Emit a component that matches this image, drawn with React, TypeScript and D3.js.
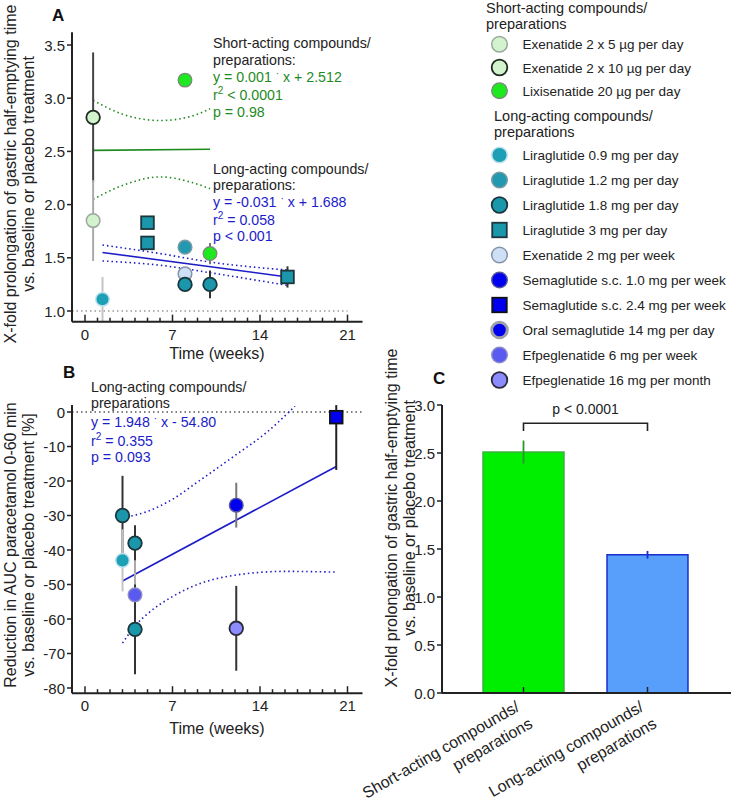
import React from "react";
import * as d3 from "d3";

const W = 731;
const H = 800;
const FONT = "'Liberation Sans', Arial, sans-serif";

// compounds (legend order)
const compounds = [
  "Exenatide 2 x 5 µg per day",
  "Exenatide 2 x 10 µg per day",
  "Lixisenatide 20 µg per day",
  "Liraglutide 0.9 mg per day",
  "Liraglutide 1.2 mg per day",
  "Liraglutide 1.8 mg per day",
  "Liraglutide 3 mg per day",
  "Exenatide 2 mg per week",
  "Semaglutide s.c. 1.0 mg per week",
  "Semaglutide s.c. 2.4 mg per week",
  "Oral semaglutide 14 mg per day",
  "Efpeglenatide 6 mg per week",
  "Efpeglenatide 16 mg per month",
];
const shortActing = compounds.slice(0, 3);
const longActing = compounds.slice(3);

// Panel A: gastric half-emptying prolongation
const aCompound = [1, 0, 2, 2, 3, 6, 6, 4, 7, 5, 5, 6];
const aWeek = [0.65, 0.65, 8, 10, 1.4, 5, 5, 8, 8, 8, 10, 16.2];
const aValue = [2.82, 1.85, 3.17, 1.54, 1.11, 1.83, 1.64, 1.6, 1.35, 1.25, 1.25, 1.32];
const aError = [0.61, 0.38, 0, 0.1, 0.21, 0, 0, 0, 0, 0, 0.13, 0.1];
const aYTicks = [1, 1.5, 2, 2.5, 3, 3.5];

const shortFitWeek = [0.65, 10];
const shortFitValue = [2.51, 2.52];
const shortCiWeek = [0.65, 3, 6, 8.5, 10];
const shortCiUpper = [2.98, 2.85, 2.79, 2.83, 2.9];
const shortCiLower = [2.05, 2.18, 2.26, 2.21, 2.15];

const longFitWeek = [1.4, 16.2];
const longFitValue = [1.55, 1.32];
const longCiWeek = [1.4, 6, 10, 16.2];
const longCiUpper = [1.62, 1.54, 1.46, 1.385];
const longCiLower = [1.47, 1.43, 1.36, 1.24];

// Panel B: paracetamol AUC reduction
const bCompound = [5, 3, 5, 11, 5, 8, 12, 9];
const bWeek = [3, 3, 4, 4, 4, 12.1, 12.1, 20.1];
const bValue = [-30, -43, -38, -53, -63, -27, -62.7, -1.5];
const bError = [11.5, 9, 5.2, 10, 13, 6.5, 12.3, 15.3];
const bYTicks = [0, -10, -20, -30, -40, -50, -60, -70, -80];

const bFitWeek = [3, 20.1];
const bFitValue = [-49, -15.8];
const bCiUpperWeek = [3, 5, 7, 9, 12, 14.5, 16.8];
const bCiUpper = [-30.7, -28.8, -25.3, -20.3, -12.6, -6, 1.7];
const bCiLowerWeek = [3, 4, 5, 7, 9, 12, 16, 20.1];
const bCiLower = [-67, -62, -58.5, -53.5, -50, -47.3, -46.2, -46.4];

const xTicksMajor = [0, 7, 14, 21];
const xTicksMinor = d3.range(0, 22);

// Panel C: bar chart
const cCategories = ["short", "long"];
const cLabels = [
  ["Short-acting compounds/", "preparations"],
  ["Long-acting compounds/", "preparations"],
];
const cValues = [2.51, 1.44];
const cErrors = [0.12, 0.04];
const cYTicks = [0, 0.5, 1, 1.5, 2, 2.5, 3];

type Style = { fill: string; stroke: string; sw: number; shape: "circle" | "square"; err: string };
const markerStyle: Record<string, Style> = {
  "Exenatide 2 x 5 µg per day": { fill: "#d3f3cf", stroke: "#9aa89a", sw: 1.5, shape: "circle", err: "#aaaaaa" },
  "Exenatide 2 x 10 µg per day": { fill: "#d3f3cf", stroke: "#1f2a1f", sw: 1.8, shape: "circle", err: "#444444" },
  "Lixisenatide 20 µg per day": { fill: "#1ee81e", stroke: "#7a8a7a", sw: 1.3, shape: "circle", err: "#777777" },
  "Liraglutide 0.9 mg per day": { fill: "#1d9fb6", stroke: "#bfe3ec", sw: 1.5, shape: "circle", err: "#c4c4c4" },
  "Liraglutide 1.2 mg per day": { fill: "#2299b0", stroke: "#7c9aa4", sw: 1.5, shape: "circle", err: "#888888" },
  "Liraglutide 1.8 mg per day": { fill: "#1a97ab", stroke: "#1b363c", sw: 1.8, shape: "circle", err: "#333333" },
  "Liraglutide 3 mg per day": { fill: "#1a97ab", stroke: "#1b363c", sw: 1.8, shape: "square", err: "#333333" },
  "Exenatide 2 mg per week": { fill: "#cfe0f6", stroke: "#8494a8", sw: 1.5, shape: "circle", err: "#888888" },
  "Semaglutide s.c. 1.0 mg per week": { fill: "#0000ee", stroke: "#56569c", sw: 1.4, shape: "circle", err: "#777777" },
  "Semaglutide s.c. 2.4 mg per week": { fill: "#0000ee", stroke: "#111111", sw: 1.8, shape: "square", err: "#222222" },
  "Oral semaglutide 14 mg per day": { fill: "#0000ee", stroke: "#a0a0a8", sw: 3, shape: "circle", err: "#999999" },
  "Efpeglenatide 6 mg per week": { fill: "#5a5af0", stroke: "#8c8cc8", sw: 1.4, shape: "circle", err: "#aaaaaa" },
  "Efpeglenatide 16 mg per month": { fill: "#8c8cff", stroke: "#2a2a3a", sw: 1.8, shape: "circle", err: "#333333" },
};

const AXIS = "#222";
const TEXT = "#222";
const GREEN = "#1f8a1f";
const BLUE = "#1c1cc8";

function Marker({ name, cx, cy, r }: { name: string; cx: number; cy: number; r: number }) {
  const s = markerStyle[name];
  if (s.shape === "square") {
    const h = r * 0.93;
    return <rect x={cx - h} y={cy - h} width={2 * h} height={2 * h} fill={s.fill} stroke={s.stroke} strokeWidth={s.sw} />;
  }
  return <circle cx={cx} cy={cy} r={r} fill={s.fill} stroke={s.stroke} strokeWidth={s.sw} />;
}

function Dot({ dy }: { dy: number }) {
  return (
    <>
      <tspan dy={-dy} fontSize={10}>·</tspan>
      <tspan dy={dy}> </tspan>
    </>
  );
}

function R2({ rest }: { rest: string }) {
  return (
    <>
      <tspan>r</tspan>
      <tspan dy={-6} fontSize={10}>2</tspan>
      <tspan dy={6}>{rest}</tspan>
    </>
  );
}

function XAxis({ x, y, x0, x1 }: { x: d3.ScaleLinear<number, number>; y: number; x0: number; x1: number }) {
  return (
    <g>
      <line x1={x0} x2={x1} y1={y} y2={y} stroke={AXIS} strokeWidth={2} />
      {xTicksMinor.map((t) => (
        <line key={t} x1={x(t)} x2={x(t)} y1={y} y2={y - (xTicksMajor.includes(t) ? 7 : 4)} stroke={AXIS} strokeWidth={1.5} />
      ))}
      {xTicksMajor.map((t) => (
        <text key={t} x={x(t)} y={y + 18} textAnchor="middle" fontSize={15} fill={TEXT}>
          {t}
        </text>
      ))}
    </g>
  );
}

function YAxis({ y, ticks, x0, top, bottom, fmt }: { y: d3.ScaleLinear<number, number>; ticks: number[]; x0: number; top: number; bottom: number; fmt: (v: number) => string }) {
  return (
    <g>
      <line x1={x0} x2={x0} y1={top} y2={bottom} stroke={AXIS} strokeWidth={2} />
      {ticks.map((t) => (
        <g key={t}>
          <line x1={x0 - 5} x2={x0} y1={y(t)} y2={y(t)} stroke={AXIS} strokeWidth={1.5} />
          <text x={x0 - 7} y={y(t) + 5.5} textAnchor="end" fontSize={15} fill={TEXT}>
            {fmt(t)}
          </text>
        </g>
      ))}
    </g>
  );
}

function RotLabel({ x1, x2, cy, lines }: { x1: number; x2: number; cy: number; lines: string[] }) {
  return (
    <g fontSize={16} fill={TEXT} textAnchor="middle">
      <text transform={`translate(${x1},${cy}) rotate(-90)`}>{lines[0]}</text>
      <text transform={`translate(${x2},${cy}) rotate(-90)`}>{lines[1]}</text>
    </g>
  );
}

export default function App() {
  const xA = d3.scaleLinear().domain([0, 21]).range([85, 347.5]);
  const yA = d3.scaleLinear().domain([1, 3.5]).range([311, 45]);
  const yB = d3.scaleLinear().domain([0, -80]).range([412, 688]);
  const xC = d3
    .scaleBand<string>()
    .domain(cCategories)
    .range([461.5, 709.5])
    .paddingInner(0.347)
    .paddingOuter(0.1735);
  const yC = d3.scaleLinear().domain([0, 3]).range([693, 405]);

  const lineA = d3
    .line<[number, number]>()
    .x((d) => xA(d[0]))
    .y((d) => yA(d[1]))
    .curve(d3.curveMonotoneX);
  const lineB = d3
    .line<[number, number]>()
    .x((d) => xA(d[0]))
    .y((d) => yB(d[1]))
    .curve(d3.curveMonotoneX);
  const zip = (a: number[], b: number[]) => a.map((v, i) => [v, b[i]] as [number, number]);

  const aTop = yA(3.62);
  const aBottom = yA(0.9);
  const bTop = yB(2);
  const bBottom = yB(-81.5);
  const dotted = "1.5 3";

  return (
    <svg
      width={W}
      height={H}
      viewBox={`0 0 ${W} ${H}`}
      style={{ position: "absolute", left: 0, top: 0, background: "#fff" }}
      fontFamily={FONT}
    >
      <rect width={W} height={H} fill="#fff" />

      {/* ---------- Panel A ---------- */}
      <text x={52} y={21} fontSize={17} fontWeight="bold" fill="#111">A</text>
      <RotLabel x1={16} x2={34} cy={174} lines={["X-fold prolongation of gastric half-emptying time", "vs. baseline or placebo treatment"]} />
      <line x1={72} x2={xA(21)} y1={yA(1)} y2={yA(1)} stroke="#999" strokeWidth={1.6} strokeDasharray={dotted} />

      <path d={lineA(zip(shortCiWeek, shortCiUpper)) || ""} fill="none" stroke={GREEN} strokeWidth={1.6} strokeDasharray={dotted} />
      <path d={lineA(zip(shortCiWeek, shortCiLower)) || ""} fill="none" stroke={GREEN} strokeWidth={1.6} strokeDasharray={dotted} />
      <path d={lineA(zip(shortFitWeek, shortFitValue)) || ""} fill="none" stroke={GREEN} strokeWidth={1.6} />
      <path d={lineA(zip(longCiWeek, longCiUpper)) || ""} fill="none" stroke={BLUE} strokeWidth={1.6} strokeDasharray={dotted} />
      <path d={lineA(zip(longCiWeek, longCiLower)) || ""} fill="none" stroke={BLUE} strokeWidth={1.6} strokeDasharray={dotted} />
      <path d={lineA(zip(longFitWeek, longFitValue)) || ""} fill="none" stroke={BLUE} strokeWidth={1.6} />

      {aValue.map((v, i) =>
        aError[i] > 0 ? (
          <line
            key={"ea" + i}
            x1={xA(aWeek[i])}
            x2={xA(aWeek[i])}
            y1={Math.max(yA(v + aError[i]), aTop)}
            y2={Math.min(yA(v - aError[i]), aBottom)}
            stroke={markerStyle[compounds[aCompound[i]]].err}
            strokeWidth={2}
          />
        ) : null
      )}
      {aValue.map((v, i) => (
        <Marker key={"ma" + i} name={compounds[aCompound[i]]} cx={xA(aWeek[i])} cy={yA(v)} r={6.8} />
      ))}

      <YAxis y={yA} ticks={aYTicks} x0={72} top={aTop} bottom={aBottom} fmt={(v) => v.toFixed(1)} />
      <XAxis x={xA} y={aBottom} x0={72} x1={xA(22.2)} />
      <text x={217} y={359} textAnchor="middle" fontSize={16} fill={TEXT}>Time (weeks)</text>

      <g fontSize={14.2}>
        <text x={213} y={48} fill={TEXT}>Short-acting compounds/</text>
        <text x={213} y={64.5} fill={TEXT}>preparations:</text>
        <text x={213} y={82} fill={GREEN}>
          y = 0.001 <Dot dy={5} />x + 2.512
        </text>
        <text x={213} y={100} fill={GREEN}><R2 rest=" < 0.0001" /></text>
        <text x={213} y={116.5} fill={GREEN}>p = 0.98</text>
        <text x={213} y={174} fill={TEXT}>Long-acting compounds/</text>
        <text x={213} y={189.5} fill={TEXT}>preparations:</text>
        <text x={213} y={207} fill={BLUE}>
          y = -0.031 <Dot dy={5} />x + 1.688
        </text>
        <text x={213} y={224.5} fill={BLUE}><R2 rest=" = 0.058" /></text>
        <text x={213} y={241} fill={BLUE}>p &lt; 0.001</text>
      </g>

      {/* ---------- Legend ---------- */}
      <g fontSize={13.5} fill={TEXT}>
        <text x={486} y={13} fontSize={14.5}>Short-acting compounds/</text>
        <text x={486} y={28.5} fontSize={14.5}>preparations</text>
        {shortActing.map((name, i) => (
          <g key={name}>
            <Marker name={name} cx={499.5} cy={44.3 + i * 23.2} r={7.8} />
            <text x={522.5} y={44.3 + i * 23.2 + 5}>{name}</text>
          </g>
        ))}
        <text x={494} y={120.5} fontSize={14.5}>Long-acting compounds/</text>
        <text x={494} y={137} fontSize={14.5}>preparations</text>
        {longActing.map((name, i) => (
          <g key={name}>
            <Marker name={name} cx={499.5} cy={155 + i * 25} r={7.8} />
            <text x={522.5} y={155 + i * 25 + 5}>{name}</text>
          </g>
        ))}
      </g>

      {/* ---------- Panel B ---------- */}
      <text x={63} y={378} fontSize={17} fontWeight="bold" fill="#111">B</text>
      <RotLabel x1={16} x2={34} cy={545} lines={["Reduction in AUC paracetamol 0-60 min", "vs. baseline or placebo treatment [%]"]} />
      <line x1={72} x2={362} y1={yB(0)} y2={yB(0)} stroke="#555" strokeWidth={1.6} strokeDasharray={dotted} />

      <path d={lineB(zip(bCiUpperWeek, bCiUpper)) || ""} fill="none" stroke={BLUE} strokeWidth={1.6} strokeDasharray={dotted} />
      <path d={lineB(zip(bCiLowerWeek, bCiLower)) || ""} fill="none" stroke={BLUE} strokeWidth={1.6} strokeDasharray={dotted} />
      <path d={lineB(zip(bFitWeek, bFitValue)) || ""} fill="none" stroke={BLUE} strokeWidth={1.6} />

      {bValue.map((v, i) => (
        <line
          key={"eb" + i}
          x1={xA(bWeek[i])}
          x2={xA(bWeek[i])}
          y1={Math.max(yB(v + bError[i]), bTop)}
          y2={Math.min(yB(v - bError[i]), bBottom)}
          stroke={markerStyle[compounds[bCompound[i]]].err}
          strokeWidth={2}
        />
      ))}
      {bValue.map((v, i) => (
        <Marker key={"mb" + i} name={compounds[bCompound[i]]} cx={xA(bWeek[i])} cy={yB(v)} r={6.8} />
      ))}

      <YAxis y={yB} ticks={bYTicks} x0={72} top={bTop} bottom={bBottom} fmt={(v) => String(v)} />
      <XAxis x={xA} y={bBottom} x0={72} x1={xA(22.2)} />
      <text x={217} y={734} textAnchor="middle" fontSize={16} fill={TEXT}>Time (weeks)</text>

      <g fontSize={14.2}>
        <text x={91} y={392} fill={TEXT}>Long-acting compounds/</text>
        <text x={91} y={407.5} fill={TEXT}>preparations</text>
        <text x={91} y={427} fill={BLUE}>
          y = 1.948 <Dot dy={5} />x - 54.80
        </text>
        <text x={91} y={445.5} fill={BLUE}><R2 rest=" = 0.355" /></text>
        <text x={91} y={461.5} fill={BLUE}>p = 0.093</text>
      </g>

      {/* ---------- Panel C ---------- */}
      <text x={433} y={384} fontSize={17} fontWeight="bold" fill="#111">C</text>
      <RotLabel x1={397} x2={415} cy={518} lines={["X-fold prolongation of gastric half-emptying time", "vs. baseline or placebo treatment"]} />

      {cCategories.map((c, i) => {
        const x0 = xC(c) as number;
        const bw = xC.bandwidth();
        const cx = x0 + bw / 2;
        const fill = i === 0 ? "#00ee00" : "#579ffa";
        const stroke = i === 0 ? "#3cb03c" : "#1a2fcc";
        return (
          <g key={c}>
            <rect x={x0} y={yC(cValues[i])} width={bw} height={yC(0) - yC(cValues[i])} fill={fill} stroke={stroke} strokeWidth={1.5} />
            <line x1={cx} x2={cx} y1={yC(cValues[i] + cErrors[i])} y2={yC(cValues[i] - cErrors[i])} stroke={i === 0 ? "#2a9a2a" : "#1a2fcc"} strokeWidth={1.8} />
            <line x1={cx} x2={cx} y1={yC(0)} y2={yC(0) - 6} stroke={AXIS} strokeWidth={1.5} />
            <g transform={`translate(${cx - 3},${yC(0) + 17}) rotate(-30)`} fontSize={16} fill={TEXT} textAnchor="end">
              <text x={0} y={0}>{cLabels[i][0]}</text>
              <text x={3} y={21}>{cLabels[i][1]}</text>
            </g>
          </g>
        );
      })}

      <YAxis y={yC} ticks={cYTicks} x0={442} top={yC(3)} bottom={yC(0)} fmt={(v) => v.toFixed(1)} />
      <line x1={442} x2={W} y1={yC(0)} y2={yC(0)} stroke={AXIS} strokeWidth={2} />

      {(() => {
        const xa = (xC("short") as number) + xC.bandwidth() / 2;
        const xb = (xC("long") as number) + xC.bandwidth() / 2;
        const top = yC(2.81);
        const leg = yC(2.73);
        return (
          <g>
            <path d={`M${xa},${leg}V${top}H${xb}V${leg}`} fill="none" stroke={AXIS} strokeWidth={1.6} />
            <text x={(xa + xb) / 2} y={414} textAnchor="middle" fontSize={14} fill={TEXT}>p &lt; 0.0001</text>
          </g>
        );
      })()}
    </svg>
  );
}
